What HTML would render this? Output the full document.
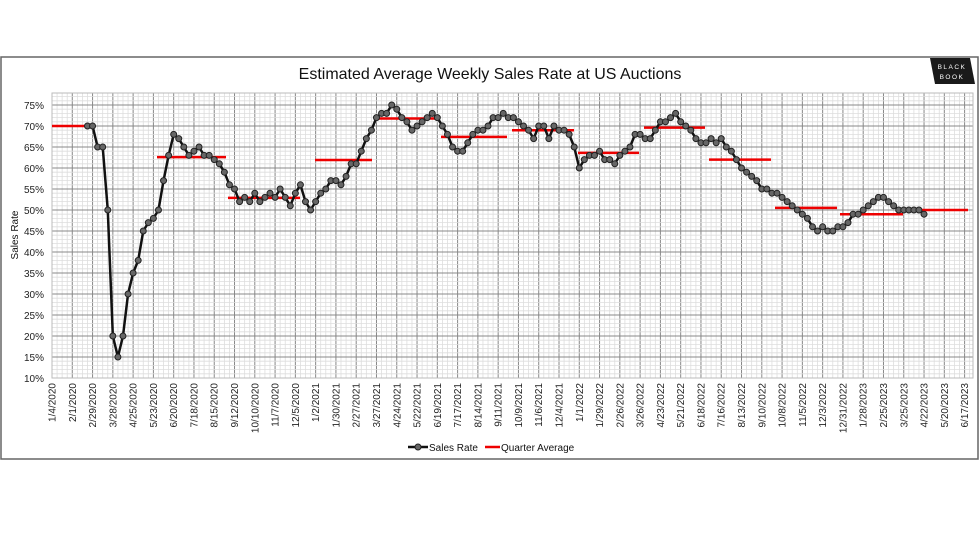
<!DOCTYPE html>
<html><head><meta charset="utf-8"><style>
body{margin:0;background:#fff;width:980px;height:552px;overflow:hidden}
text{font-family:"Liberation Sans",Arial,sans-serif}
</style></head><body>
<svg id="s" width="980" height="552" xmlns="http://www.w3.org/2000/svg">
<rect x="1" y="57" width="977" height="402" fill="#fff" stroke="#666" stroke-width="1.5"/>
<g id="grid"></g>
<text x="490" y="79" text-anchor="middle" font-size="16" fill="#111">Estimated Average Weekly Sales Rate at US Auctions</text>
<polygon points="930,58 970,58 975,84 935,84" fill="#1a1a1a"/>
<text x="952" y="69" text-anchor="middle" font-size="6.5" fill="#fff" letter-spacing="1.5">BLACK</text>
<text x="952" y="79" text-anchor="middle" font-size="6.5" fill="#fff" letter-spacing="1.5">BOOK</text>
<text transform="translate(18,235) rotate(-90)" text-anchor="middle" font-size="10" fill="#111">Sales Rate</text>
<g id="ylab"></g><g id="xlab"></g><g id="red"></g><g id="ser"></g>
<line x1="408" y1="447" x2="428" y2="447" stroke="#111" stroke-width="2.5"/>
<circle cx="418" cy="447" r="3" fill="#666" stroke="#222"/>
<text x="429" y="451" font-size="10" fill="#111">Sales Rate</text>
<line x1="485" y1="447" x2="500" y2="447" stroke="#e00" stroke-width="2.5"/>
<text x="501" y="451" font-size="10" fill="#111">Quarter Average</text>
</svg>
<script>
const NS="http://www.w3.org/2000/svg";
function el(p,t,a,txt){const e=document.createElementNS(NS,t);for(const k in a)e.setAttribute(k,a[k]);if(txt)e.textContent=txt;document.getElementById(p).appendChild(e);return e;}
const X0=52,DX=5.07,L=52,R=973,T=93,B=378;
const Y=v=>378-(v-10)*4.2;
for(let w=0;X0+w*DX<=R;w++){const x=X0+w*DX;el('grid','line',{x1:x,x2:x,y1:T,y2:B,stroke:w%4==0?'#888':'#ddd','stroke-width':w%4==0?1:0.8});}
for(let v=10;Y(v)>=T;v++){const y=Y(v);el('grid','line',{x1:L,x2:R,y1:y,y2:y,stroke:v%5==0?'#888':'#ddd','stroke-width':v%5==0?1:0.8});}
el('grid','rect',{x:L,y:T,width:R-L,height:B-T,fill:'none',stroke:'#bbb'});
for(let v=10;v<=75;v+=5)el('ylab','text',{x:44,y:Y(v)+4,'text-anchor':'end','font-size':10,fill:'#222'},v+'%');
const labs="1/4/2020 2/1/2020 2/29/2020 3/28/2020 4/25/2020 5/23/2020 6/20/2020 7/18/2020 8/15/2020 9/12/2020 10/10/2020 11/7/2020 12/5/2020 1/2/2021 1/30/2021 2/27/2021 3/27/2021 4/24/2021 5/22/2021 6/19/2021 7/17/2021 8/14/2021 9/11/2021 10/9/2021 11/6/2021 12/4/2021 1/1/2022 1/29/2022 2/26/2022 3/26/2022 4/23/2022 5/21/2022 6/18/2022 7/16/2022 8/13/2022 9/10/2022 10/8/2022 11/5/2022 12/3/2022 12/31/2022 1/28/2023 2/25/2023 3/25/2023 4/22/2023 5/20/2023 6/17/2023".split(' ');
labs.forEach((s,i)=>{const x=X0+i*4*DX+3.5;el('xlab','text',{transform:`translate(${x},383) rotate(-90)`,'text-anchor':'end','font-size':10,fill:'#222'},s);});
const q=[[52,93,70],[157,226,62.6],[228,300,52.9],[315,372,61.9],[376,437,71.8],[441,507,67.4],[512,574,69],[578,639,63.6],[644,705,69.6],[709,771,62],[775,837,50.5],[840,903,49],[906,968,50]];
q.forEach(a=>el('red','line',{x1:a[0],x2:a[1],y1:Y(a[2]),y2:Y(a[2]),stroke:'#e00','stroke-width':2.5}));
const vals=[70,70,65,65,50,20,15,20,30,35,38,45,47,48,50,57,63,68,67,65,63,64,65,63,63,62,61,59,56,55,52,53,52,54,52,53,54,53,55,53,51,54,56,52,50,52,54,55,57,57,56,58,61,61,64,67,69,72,73,73,75,74,72,71,69,70,71,72,73,72,70,68,65,64,64,66,68,69,69,70,72,72,73,72,72,71,70,69,67,70,70,67,70,69,69,68,65,60,62,63,63,64,62,62,61,63,64,65,68,68,67,67,69,71,71,72,73,71,70,69,67,66,66,67,66,67,65,64,62,60,59,58,57,55,55,54,54,53,52,51,50,49,48,46,45,46,45,45,46,46,47,49,49,50,51,52,53,53,52,51,50,50,50,50,50,49];
let w0=7,pts=vals.map((v,i)=>[X0+(w0+i)*DX,Y(v)]);
el('ser','polyline',{points:pts.map(p=>p.join(',')).join(' '),fill:'none',stroke:'#111','stroke-width':2.5,'stroke-linejoin':'round'});
pts.forEach(p=>el('ser','circle',{cx:p[0],cy:p[1],r:3,fill:'#666',stroke:'#222','stroke-width':1}));
</script>
</body></html>
